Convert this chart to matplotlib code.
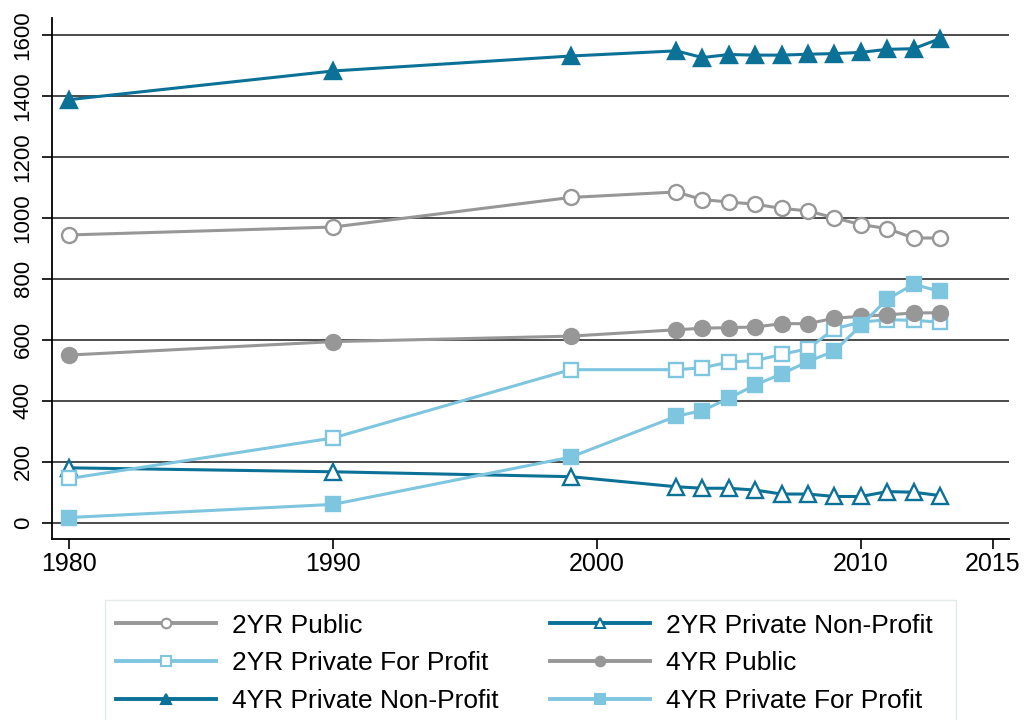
import matplotlib
matplotlib.use("Agg")
import matplotlib.pyplot as plt
from matplotlib.lines import Line2D
from matplotlib.patches import Rectangle

plt.rcParams['font.family'] = ['Liberation Sans', 'DejaVu Sans']

# --- data ---
years = [1980, 1990, 1999, 2003, 2004, 2005, 2006, 2007, 2008, 2009, 2010, 2011, 2012, 2013]
pub_2yr = [944, 970, 1067, 1085, 1060, 1052, 1045, 1031, 1023, 1000, 978, 965, 934, 934]
pnp_2yr = [180, 167, 151, 118, 113, 113, 107, 94, 94, 86, 86, 102, 100, 89]
pfp_2yr = [145, 278, 502, 502, 508, 527, 532, 552, 571, 636, 658, 666, 664, 658]
pub_4yr = [550, 594, 612, 633, 638, 640, 642, 653, 653, 671, 677, 682, 688, 689]
pnp_4yr = [1388, 1482, 1531, 1548, 1526, 1536, 1534, 1534, 1537, 1539, 1543, 1553, 1555, 1588]
pfp_4yr = [17, 60, 215, 349, 368, 408, 452, 488, 529, 563, 647, 733, 782, 759]

x_ticks = [1980, 1990, 2000, 2010, 2015]
y_ticks = [0, 200, 400, 600, 800, 1000, 1200, 1400, 1600]

GRAY = '#979797'
DARK = '#0b7196'
LIGHT = '#7ec5df'

# (label, values, color, marker, filled)
series = [
    ('2YR Public', pub_2yr, GRAY, 'o', False),
    ('2YR Private Non-Profit', pnp_2yr, DARK, '^', False),
    ('2YR Private For Profit', pfp_2yr, LIGHT, 's', False),
    ('4YR Public', pub_4yr, GRAY, 'o', True),
    ('4YR Private Non-Profit', pnp_4yr, DARK, '^', True),
    ('4YR Private For Profit', pfp_4yr, LIGHT, 's', True),
]
msize = {'o': 10.8, '^': 12.0, 's': 10.2}

fig = plt.figure(figsize=(10.26, 7.2), dpi=100)
ax = fig.add_axes([52 / 1026, 1 - 539 / 720, (1009 - 52) / 1026, (539 - 18.3) / 720])

handles = {}
for label, vals, col, mk, filled in series:
    ax.plot(years, vals, color=col, lw=2.2, marker=mk, ms=msize[mk],
            mfc=col if filled else 'white', mec=col, mew=1.7, zorder=3)
    handles[label] = Line2D([], [], color=col, lw=2.8, marker=mk,
                            ms=msize[mk] * 0.64,
                            mfc=col if filled else 'white', mec=col, mew=1.5)

ax.set_xlim(1979.344, 2015.618)
ax.set_ylim(-53.5, 1654.8)
ax.set_xticks(x_ticks)
ax.set_yticks(y_ticks)
ax.grid(axis='y', color='#1a1a1a', lw=1.1, zorder=1)
for side in ('top', 'right'):
    ax.spines[side].set_visible(False)
for side in ('left', 'bottom'):
    ax.spines[side].set_linewidth(1.3)
ax.tick_params(axis='x', length=7.2, width=1.2, labelsize=18, pad=2)
ax.tick_params(axis='y', length=7.2, width=1.2, labelsize=16, pad=6)
for t in ax.get_yticklabels():
    t.set_rotation(90)
    t.set_va('center')

# legend frame drawn by hand (runs off the bottom edge like the reference)
fig.patches.append(Rectangle((105 / 1026, -0.05), (956 - 105) / 1026, 0.05 + 120 / 720,
                             transform=fig.transFigure, fill=False,
                             edgecolor='#e2eaea', lw=1.0))

# legend: column-wise order to match reference layout
order = ['2YR Public', '2YR Private For Profit', '4YR Private Non-Profit',
         '2YR Private Non-Profit', '4YR Public', '4YR Private For Profit']
leg = fig.legend([handles[k] for k in order], order, ncol=2,
                 loc='upper left', bbox_to_anchor=(105 / 1026, 1 - 603 / 720),
                 fontsize=19, handlelength=3.8, handletextpad=0.6,
                 columnspacing=1.95, labelspacing=0.52, borderpad=0.4,
                 borderaxespad=0, frameon=False)

fig.savefig('out.png', dpi=100)
